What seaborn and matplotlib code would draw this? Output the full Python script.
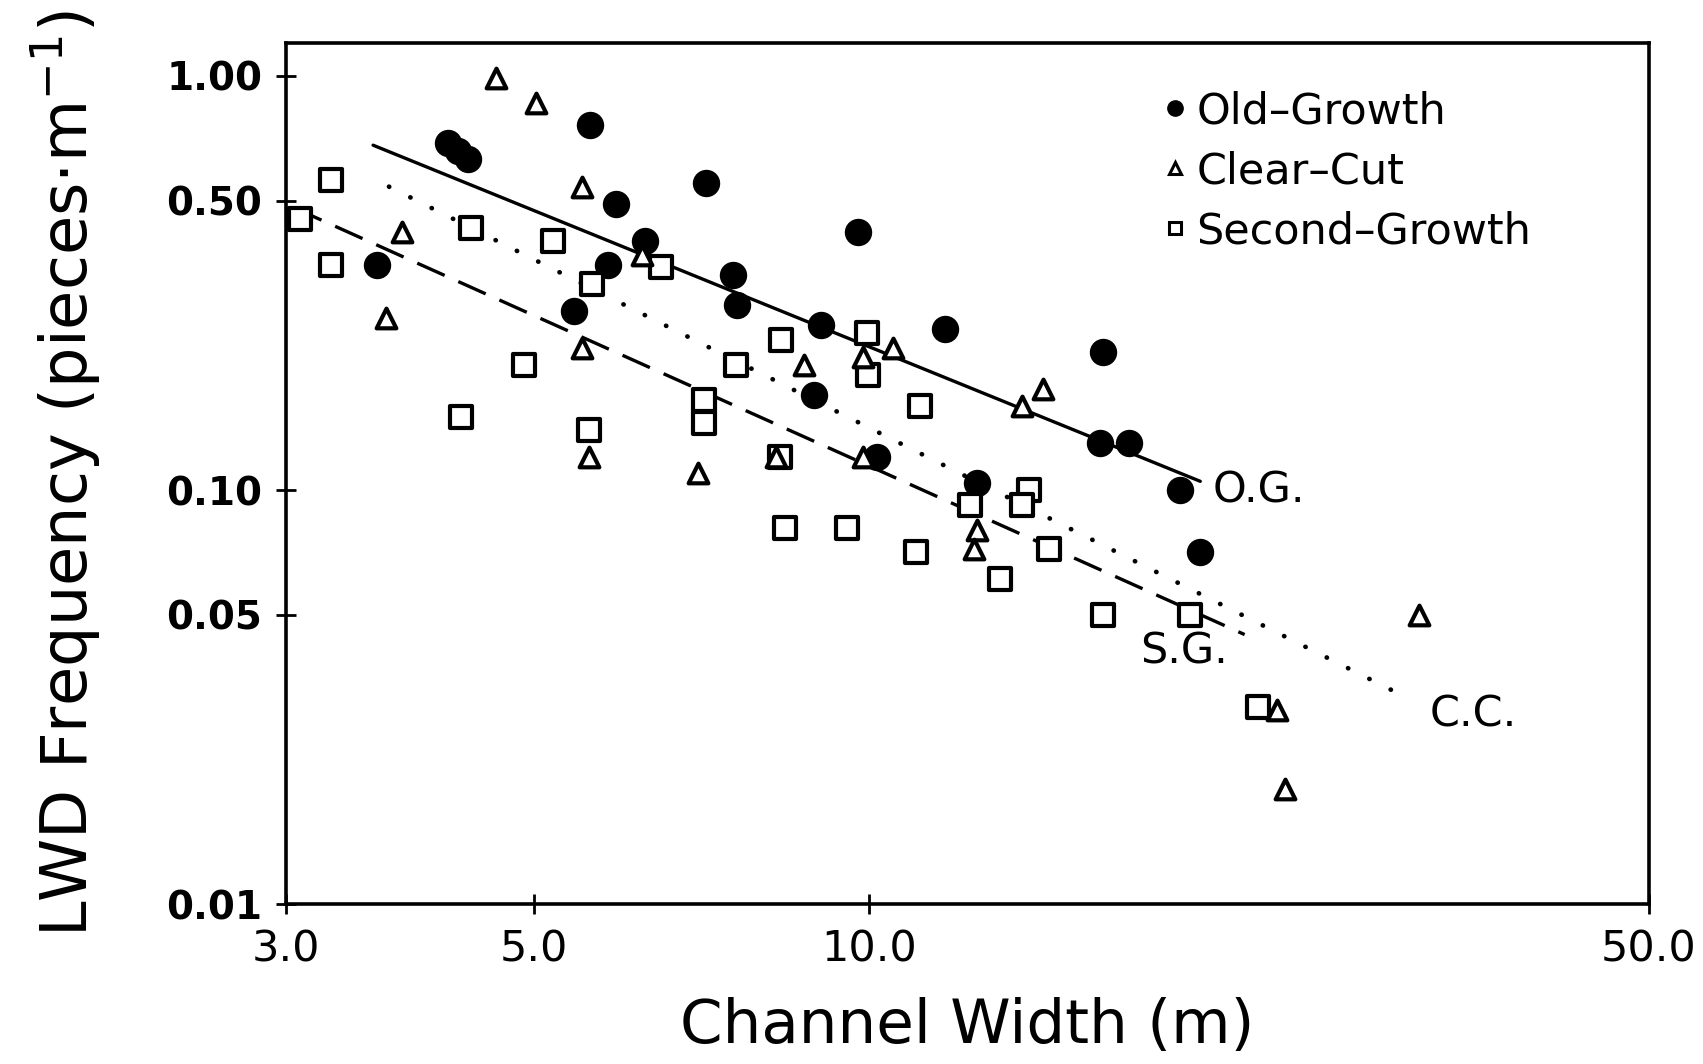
import pandas as pd
import matplotlib
matplotlib.use("Agg")
import matplotlib.pyplot as plt
import seaborn as sns
from matplotlib.lines import Line2D
from matplotlib.ticker import FixedLocator, FixedFormatter, NullLocator

# channel width (m) and LWD frequency (pieces per m)
og_width = [3.62, 4.19, 4.28, 4.37, 5.62, 5.93, 7.14, 6.29, 5.83, 5.43, 9.76, 7.54,
            7.61, 9.05, 11.7, 16.2, 8.92, 10.15, 12.5, 16.1, 17.1, 19.0, 19.8]
og_freq = [0.35, 0.69, 0.66, 0.63, 0.76, 0.49, 0.55, 0.40, 0.35, 0.27, 0.42, 0.33,
           0.28, 0.25, 0.245, 0.215, 0.17, 0.12, 0.104, 0.13, 0.13, 0.10, 0.071]

cc_width = [4.63, 5.03, 5.53, 3.81, 3.69, 6.26, 5.53, 5.61, 7.02, 8.73, 8.24, 9.87,
            10.5, 9.87, 14.3, 13.7, 12.5, 12.4, 31.1, 23.2, 23.6]
cc_freq = [0.99, 0.86, 0.54, 0.42, 0.26, 0.37, 0.22, 0.12, 0.11, 0.20, 0.12, 0.21,
           0.22, 0.12, 0.175, 0.16, 0.08, 0.072, 0.05, 0.0295, 0.019]

sg_width = [3.29, 3.09, 3.29, 4.39, 5.20, 6.50, 5.64, 8.33, 7.6, 4.9, 4.3, 5.61,
            7.11, 7.11, 8.31, 9.95, 9.97, 11.1, 13.9, 13.7, 12.3, 8.41, 9.55, 11.0,
            14.5, 13.1, 16.2, 19.4, 22.3]
sg_freq = [0.56, 0.45, 0.35, 0.43, 0.40, 0.345, 0.315, 0.23, 0.20, 0.20, 0.15, 0.14,
           0.165, 0.145, 0.12, 0.24, 0.19, 0.16, 0.10, 0.092, 0.092, 0.081, 0.081, 0.071,
           0.072, 0.061, 0.05, 0.05, 0.03]

# fitted lines (end points)
og_fit_x = [3.59, 19.8]
og_fit_y = [0.68, 0.105]
cc_fit_x = [3.71, 29.8]
cc_fit_y = [0.54, 0.0323]
sg_fit_x = [3.05, 21.7]
sg_fit_y = [0.48, 0.0448]

fit_labels = ["O.G.", "S.G.", "C.C."]
fit_label_x = [20.3, 17.5, 31.8]
fit_label_y = [0.100, 0.0408, 0.0288]

x_ticks = [3.0, 5.0, 10.0, 50.0]
x_ticklabels = ["3.0", "5.0", "10.0", "50.0"]
y_ticks = [0.01, 0.05, 0.10, 0.50, 1.00]
y_ticklabels = ["0.01", "0.05", "0.10", "0.50", "1.00"]

legend_names = ["Old\u2013Growth", "Clear\u2013Cut", "Second\u2013Growth"]

sns.set_style("ticks", {"text.color": "black", "axes.labelcolor": "black",
                        "xtick.color": "black", "ytick.color": "black",
                        "axes.edgecolor": "black"})
plt.rcParams["font.family"] = ["DejaVu Sans"]
plt.rcParams["mathtext.fontset"] = "dejavusans"

fig = plt.figure(figsize=(17.03, 10.64), dpi=100)
ax = fig.add_axes([0.168, 0.150, 0.8003, 0.8096])

df_og = pd.DataFrame({"width": og_width, "freq": og_freq})
df_cc = pd.DataFrame({"width": cc_width, "freq": cc_freq})
df_sg = pd.DataFrame({"width": sg_width, "freq": sg_freq})

sns.scatterplot(data=df_og, x="width", y="freq", marker="o", s=350,
                color="black", edgecolor="black", linewidth=1, ax=ax, zorder=3)
sns.scatterplot(data=df_sg, x="width", y="freq", marker="s", s=230,
                facecolor="white", edgecolor="black", linewidth=3, ax=ax, zorder=3)
sns.scatterplot(data=df_cc, x="width", y="freq", marker="^", s=200,
                facecolor="white", edgecolor="black", linewidth=3, ax=ax, zorder=4)

ax.plot(og_fit_x, og_fit_y, color="black", lw=2.4, solid_capstyle="round", zorder=2)
ax.plot(sg_fit_x, sg_fit_y, color="black", lw=2.4, dashes=(9, 4.5), zorder=2)
ax.plot(cc_fit_x, cc_fit_y, color="black", lw=3.4, dashes=(0.05, 5.0),
        dash_capstyle="round", zorder=2)

for lab, lx, ly in zip(fit_labels, fit_label_x, fit_label_y):
    ax.text(lx, ly, lab, fontsize=31, ha="left", va="center", color="black")

ax.set_xscale("log")
ax.set_yscale("log")
ax.set_xlim(3.0, 50.0)
ax.set_ylim(0.01, 1.2)

ax.xaxis.set_major_locator(FixedLocator(x_ticks))
ax.xaxis.set_major_formatter(FixedFormatter(x_ticklabels))
ax.xaxis.set_minor_locator(NullLocator())
ax.yaxis.set_major_locator(FixedLocator(y_ticks))
ax.yaxis.set_major_formatter(FixedFormatter(y_ticklabels))
ax.yaxis.set_minor_locator(NullLocator())

ax.tick_params(axis="both", direction="inout", length=14, width=2, colors="black")
ax.tick_params(axis="x", labelsize=31, pad=10)
ax.tick_params(axis="y", labelsize=28, pad=10)
for lab in ax.get_yticklabels():
    lab.set_fontweight("bold")

for sp in ax.spines.values():
    sp.set_visible(True)
    sp.set_linewidth(2.6)
    sp.set_color("black")

ax.set_xlabel("Channel Width (m)", fontsize=44, va="center", color="black")
ax.set_ylabel(r"LWD Frequency (pieces$\cdot$m$^{-1}$)", fontsize=46, va="center",
              color="black")
ax.xaxis.set_label_coords(0.5, -0.142)
ax.yaxis.set_label_coords(-0.162, 0.5)

handles = [
    Line2D([], [], marker="o", ls="", color="black", markersize=11),
    Line2D([], [], marker="^", ls="", markerfacecolor="white", markeredgecolor="black",
           markeredgewidth=2.2, markersize=9),
    Line2D([], [], marker="s", ls="", markerfacecolor="white", markeredgecolor="black",
           markeredgewidth=2.2, markersize=9),
]
leg = ax.legend(handles, legend_names, loc="upper left", bbox_to_anchor=(0.63, 0.965),
                frameon=False, fontsize=31, handlelength=0.6, handletextpad=0.2,
                labelspacing=0.42, borderaxespad=0)
for t in leg.get_texts():
    t.set_color("black")

fig.savefig("out.png", dpi=100, facecolor="white")
